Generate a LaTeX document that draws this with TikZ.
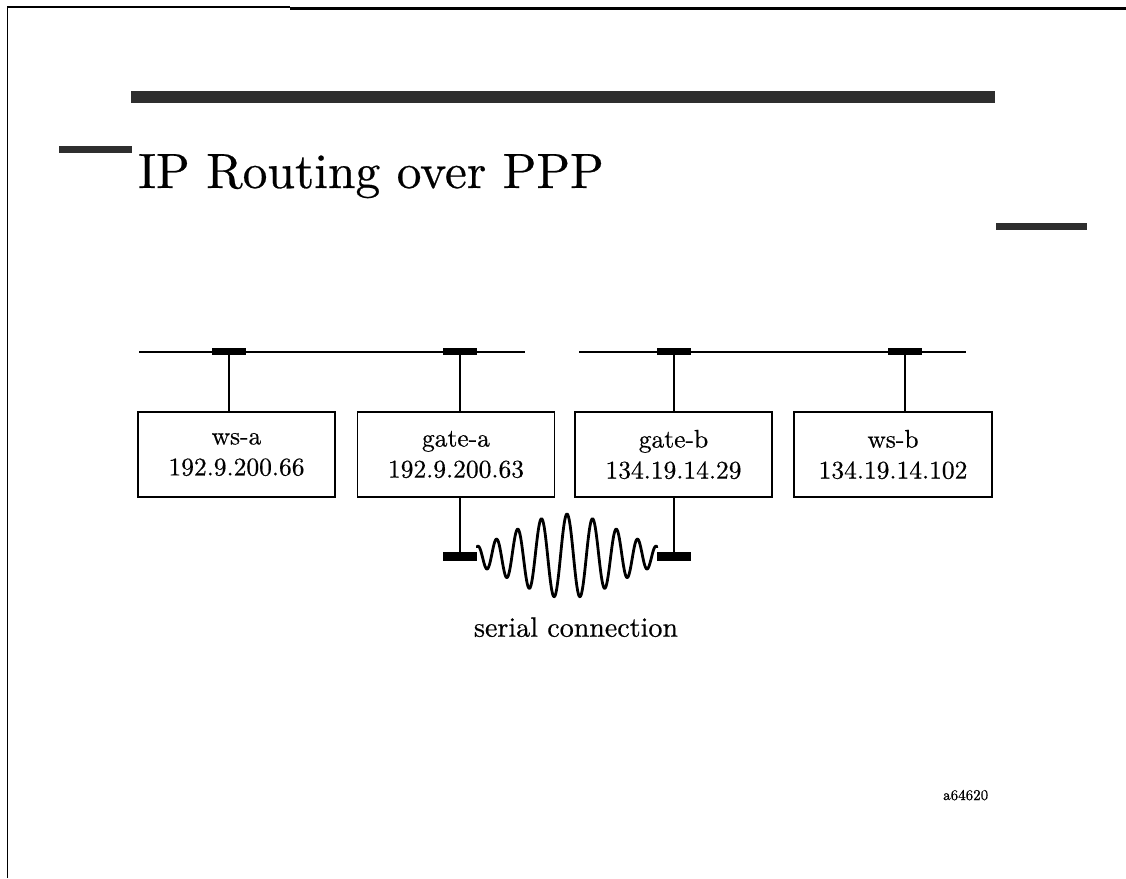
\documentclass[tikz,border=0pt]{standalone}
\usepackage{fontspec}
\setmainfont{lmroman10-regular.otf}[FakeBold=0.5]
\begin{document}
\begin{tikzpicture}[x=1pt,y=-1pt,
  frameline/.style={line width=1.8pt},
  shadebar/.style={fill=black!82, draw=none},
  lan/.style={line width=1.6pt},
  tap/.style={rectangle, fill=black, draw=none, inner sep=0pt, minimum width=34pt, minimum height=7pt},
  serialtap/.style={tap, minimum height=9pt},
  host/.style={rectangle, draw, line width=1.5pt, minimum width=197pt, minimum height=85pt,
               align=center, inner sep=0pt, font=\fontsize{25.5}{31}\selectfont},
  wave/.style={line width=2.8pt, line join=round, line cap=round}
]
\useasboundingbox (0,0) rectangle (1126,878);

% page frame
\coordinate (fTL) at (7.5,7);
\coordinate (fBL) at (7.5,878);
\coordinate (fTM) at (290,7);
\coordinate (fTR) at (1126,8.3);
\draw[frameline] (fBL) -- (fTL) -- (fTM);
\draw[line width=3.6pt] (fTM |- fTR) -- (fTR);

% shaded rules
\fill[shadebar] (131,91) rectangle (995,103);
\fill[shadebar] (59,146) rectangle (132,153);
\fill[shadebar] (996,223) rectangle (1087,229.5);

% title
\node[anchor=base west, inner sep=0pt, font=\fontsize{49.5}{58}\selectfont] (title) at (138,188) {IP Routing over PPP};

% LAN segments
\coordinate (lanAL) at (139,352);
\coordinate (lanAR) at (525,352);
\coordinate (lanBL) at (579,352);
\coordinate (lanBR) at (966,352);
\draw[lan] (lanAL) -- (lanAR);
\draw[lan] (lanBL) -- (lanBR);

% LAN taps
\node[tap] (tapWsA)   at (229,351.7) {};
\node[tap] (tapGateA) at (460,351.7) {};
\node[tap] (tapGateB) at (674,351.7) {};
\node[tap] (tapWsB)   at (905,351.7) {};

% hosts
\node[host] (wsA)   at (236.5,454.5) {ws-a\\192.9.200.66};
\node[host] (gateA) at (456,454.5)   {gate-a\\192.9.200.63};
\node[host] (gateB) at (673.5,454.5) {gate-b\\134.19.14.29};
\node[host, minimum width=198pt] (wsB) at (893,454.5) {ws-b\\134.19.14.102};

% drops from taps to hosts
\draw[lan] (tapWsA.center)   -- (tapWsA.center |- wsA.north);
\draw[lan] (tapGateA.center) -- (tapGateA.center |- gateA.north);
\draw[lan] (tapGateB.center) -- (tapGateB.center |- gateB.north);
\draw[lan] (tapWsB.center)   -- (tapWsB.center |- wsB.north);

% serial line ends
\node[serialtap] (serA) at (460,556.5) {};
\node[serialtap] (serB) at (674,556.5) {};
\draw[lan] (serA.center |- gateA.south) -- (serA.center);
\draw[lan] (serB.center |- gateB.south) -- (serB.center);

% serial link drawn as a wave packet
\draw[wave] plot[domain=-90:90, samples=361, smooth]
  ({567+\x}, {556 - 42*exp(-(\x/74)^2)*cos(360*(\x/26 + 0.8*(\x/100)^3))});

\node[font=\fontsize{28}{32}\selectfont, anchor=base, inner sep=0pt] (serialLabel) at (576,636.7) {serial connection};

\node[font=\fontsize{15}{18}\selectfont, anchor=base west, inner sep=0pt] (figId) at (943,800) {a64620};
\end{tikzpicture}
\end{document}
